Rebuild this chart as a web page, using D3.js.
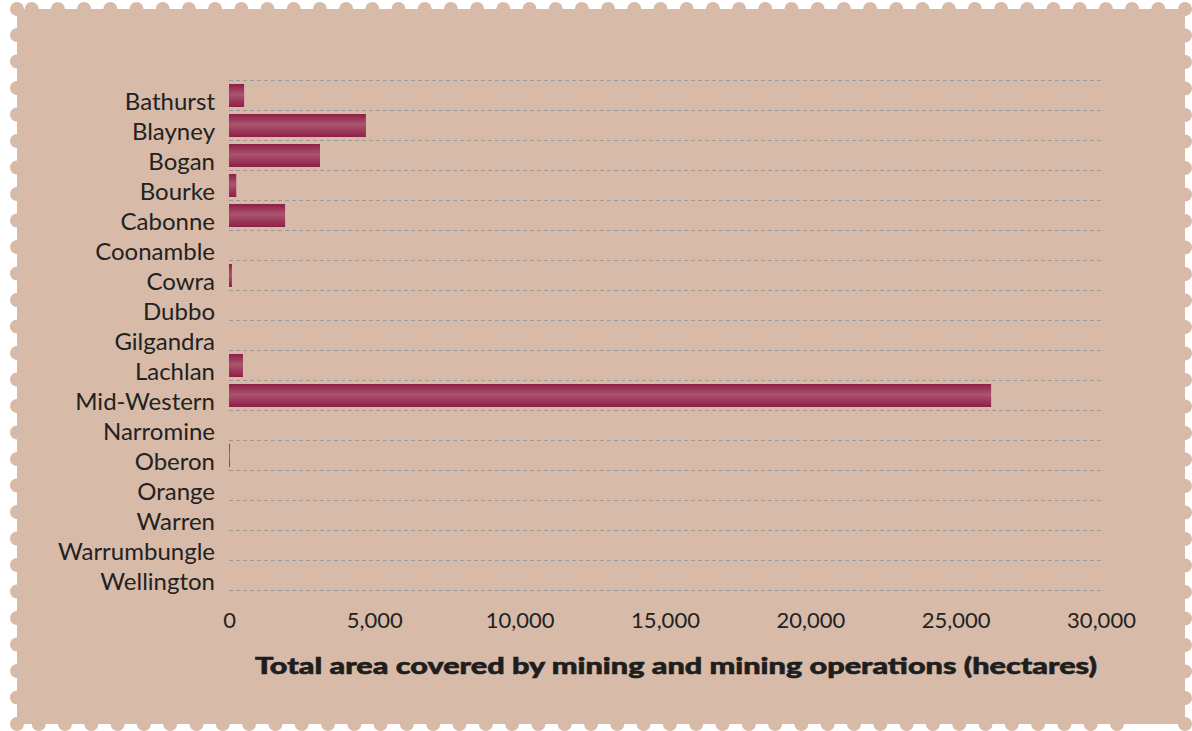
<!DOCTYPE html>
<html>
<head>
<meta charset="utf-8">
<script src="https://cdn.jsdelivr.net/npm/d3@7"></script>
<style>
  html, body { margin: 0; padding: 0; background: #ffffff; }
  svg { display: block; }
</style>
</head>
<body>
<svg id="chart" width="1192" height="731"></svg>
<script>
// ---- Data ----
const categories = ["Bathurst", "Blayney", "Bogan", "Bourke", "Cabonne", "Coonamble", "Cowra", "Dubbo",
  "Gilgandra", "Lachlan", "Mid-Western", "Narromine", "Oberon", "Orange", "Warren", "Warrumbungle", "Wellington"];
const values = [520, 4710, 3130, 250, 1930, 0, 100, 0, 0, 480, 26220, 0, 30, 0, 0, 0, 0];
const xTicks = [0, 5000, 10000, 15000, 20000, 25000, 30000];
const xTitle = "Total area covered by mining and mining operations (hectares)";

// ---- Setup ----
const svg = d3.select("#chart");
const bg = "#d7baa8";
const fontFam = "Lato, 'Open Sans', 'DejaVu Sans', sans-serif";

// stamp background
const stamp = svg.append("g");
const sx0 = 17, sx1 = 1185, sy0 = 9, sy1 = 724, r = 7;
stamp.append("rect").attr("x", sx0).attr("y", sy0).attr("width", sx1 - sx0).attr("height", sy1 - sy0).attr("fill", bg);
const circ = [];
[[sx0, sy0], [sx1, sy0], [sx0, sy1], [sx1, sy1]].forEach(p => circ.push(p));
for (let px = 31.7; px < sx1 - 10; px += 26.2) { circ.push([px, sy0]); }
for (let px = sx1 - 68; px > sx0 + 10; px -= 26.3) { circ.push([px, sy1]); }
for (let py = 35; py < sy1 - 10; py += 26.5) { circ.push([sx0, py]); }
for (let py = sy1 - 26; py > sy0 + 10; py -= 26.5) { circ.push([sx1, py]); }
stamp.selectAll("circle").data(circ).join("circle")
  .attr("cx", d => d[0]).attr("cy", d => d[1]).attr("r", r).attr("fill", bg);

// gradient
const defs = svg.append("defs");
const grad = defs.append("linearGradient").attr("id", "barGrad")
  .attr("x1", 0).attr("y1", 0).attr("x2", 0).attr("y2", 1);
grad.append("stop").attr("offset", "0%").attr("stop-color", "#8e1f48");
grad.append("stop").attr("offset", "45%").attr("stop-color", "#aa546d");
grad.append("stop").attr("offset", "100%").attr("stop-color", "#8e1f48");

// scales
const x = d3.scaleLinear().domain([0, 30000]).range([229, 1101]);
const yb = d3.scaleBand().domain(categories).range([80, 590]);

// gridlines at band boundaries
const bounds = categories.map(c => yb(c)).concat([590]);
svg.append("g").selectAll("line").data(bounds).join("line")
  .attr("x1", x(0)).attr("x2", x(30000))
  .attr("y1", d => Math.round(d) + 0.5).attr("y2", d => Math.round(d) + 0.5)
  .attr("stroke", "#9a9a9a").attr("stroke-width", 1).attr("stroke-dasharray", "4,3");

// bars
svg.append("g").selectAll("rect").data(categories).join("rect")
  .attr("x", x(0))
  .attr("y", (c) => yb(c) + 4)
  .attr("height", yb.bandwidth() - 7)
  .attr("width", (c, i) => Math.max(0, x(values[i]) - x(0)))
  .attr("fill", "url(#barGrad)");

// category labels
svg.append("g").selectAll("text").data(categories).join("text")
  .attr("x", 215)
  .attr("y", c => yb(c) + yb.bandwidth() / 2 + 15)
  .attr("text-anchor", "end")
  .attr("font-family", fontFam)
  .attr("font-size", 24)
  .attr("fill", "#222")
  .text(c => c);

// x axis tick labels
const xAxis = d3.axisBottom(x).tickValues(xTicks).tickSize(0).tickPadding(0)
  .tickFormat(d3.format(","));
const gx = svg.append("g").attr("transform", "translate(0,612)").call(xAxis);
gx.select(".domain").remove();
gx.selectAll("text")
  .attr("font-family", fontFam)
  .attr("font-size", 22)
  .attr("fill", "#222")
  .attr("dy", "0.72em");

// x title
svg.append("text")
  .attr("x", 255).attr("y", 674)
  .attr("font-family", fontFam)
  .attr("font-weight", 900)
  .attr("font-size", 23)
  .attr("fill", "#1e1e1e")
  .attr("stroke", "#1e1e1e")
  .attr("stroke-width", 0.6)
  .attr("textLength", 842)
  .attr("lengthAdjust", "spacingAndGlyphs")
  .text(xTitle);
</script>
</body>
</html>
